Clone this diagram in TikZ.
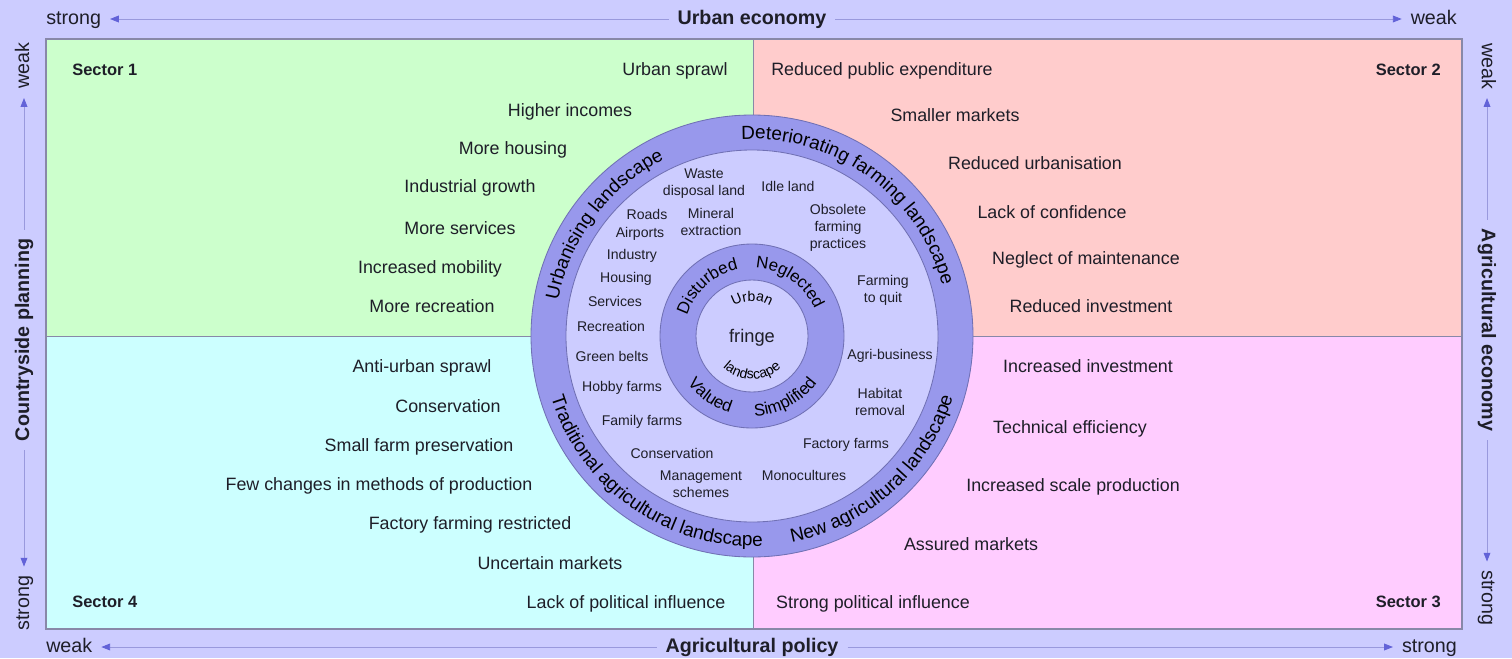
\documentclass[tikz,border=0pt]{standalone}
\usepackage{fontspec}
\setmainfont{Liberation Sans}
\usetikzlibrary{positioning,arrows.meta,decorations.text}
\definecolor{bglav}{HTML}{CCCCFF}
\definecolor{secone}{HTML}{CCFFCC}
\definecolor{sectwo}{HTML}{FFCCCC}
\definecolor{secthree}{HTML}{FFCCFF}
\definecolor{secfour}{HTML}{CCFFFF}
\definecolor{ringfill}{HTML}{9898EC}
\definecolor{ringline}{HTML}{7070B4}
\definecolor{frameline}{HTML}{8888A8}
\definecolor{axline}{HTML}{9999DD}
\definecolor{axtip}{HTML}{6262D8}
\definecolor{txt}{HTML}{1E1E28}
\newcommand{\ringfont}{\fontsize{13.5pt}{16pt}\selectfont}
\newcommand{\midfont}{\fontsize{12pt}{14pt}\selectfont}
\newcommand{\coretext}{\fontsize{10pt}{12pt}\selectfont}
\tikzset{
  lbl/.style={font=\fontsize{12.7pt}{15pt}\selectfont,text=txt,inner sep=0pt,
    text height=9.1pt,text depth=2.6pt,yshift=-0.5mm},
  sect/.style={font=\bfseries\fontsize{11.7pt}{14pt}\selectfont,text=txt,inner sep=0pt,
    text height=8.4pt,text depth=2.4pt,yshift=-0.5mm},
  small/.style={font=\fontsize{10pt}{12pt}\selectfont,text=txt,align=center,inner sep=0pt},
  axlbl/.style={font=\fontsize{14pt}{16pt}\selectfont,text=txt,inner xsep=1mm,inner ysep=0pt,
    text height=10pt,text depth=2.8pt},
  axttl/.style={axlbl,font=\bfseries\fontsize{14pt}{16pt}\selectfont,inner xsep=2.2mm},
  axarr/.style={draw=axline,line width=0.6pt,shorten >=1.2mm,
    -{Triangle[length=2.2mm,width=1.7mm,color=axtip]}},
  ring/.style={fill=ringfill,draw=ringline,line width=0.6pt},
  hole/.style={fill=bglav,draw=ringline,line width=0.6pt},
}

\begin{document}
\begin{tikzpicture}[x=0.025cm,y=0.025cm]
  \useasboundingbox (0,0) rectangle (1512,-658);
  \fill[bglav] (0,0) rectangle (1512,-658);
  % four sectors
  \fill[secone] (46,-39) rectangle (753,-336);
  \fill[sectwo] (753,-39) rectangle (1462,-336);
  \fill[secfour] (46,-336) rectangle (753,-629);
  \fill[secthree] (753,-336) rectangle (1462,-629);
  \draw[frameline,line width=0.5pt] (753,-39) -- (753,-629) (46,-336) -- (1462,-336);
  \draw[frameline,line width=0.9pt] (46,-39) rectangle (1462,-629);

  % axes round the frame
  \node[axttl] (uecon) at (752,-19) {Urban economy};
  \node[axlbl,anchor=west] (tstrong) at (42,-19) {strong};
  \node[axlbl,anchor=east] (tweak) at (1461,-19) {weak};
  \draw[axarr] (uecon.west) -- (tstrong.east);
  \draw[axarr] (uecon.east) -- (tweak.west);

  \node[axttl] (apol) at (752,-647) {Agricultural policy};
  \node[axlbl,anchor=west] (bweak) at (42,-647) {weak};
  \node[axlbl,anchor=east] (bstrong) at (1461,-647) {strong};
  \draw[axarr] (apol.west) -- (bweak.east);
  \draw[axarr] (apol.east) -- (bstrong.west);

  \node[axttl,rotate=90] (cplan) at (24,-340) {Countryside planning};
  \node[axlbl,rotate=90] (lweak) at (24,-66) {weak};
  \node[axlbl,rotate=90] (lstrong) at (24,-603) {strong};
  \draw[axarr] (cplan.east) -- (lweak.west);
  \draw[axarr] (cplan.west) -- (lstrong.east);

  \node[axttl,rotate=-90] (aecon) at (1487,-330) {Agricultural economy};
  \node[axlbl,rotate=-90] (rweak) at (1487,-66) {weak};
  \node[axlbl,rotate=-90] (rstrong) at (1487,-598) {strong};
  \draw[axarr] (aecon.west) -- (rweak.east);
  \draw[axarr] (aecon.east) -- (rstrong.west);

  % sector names
  \node[sect,anchor=west] (sone) at (72,-69) {Sector 1};
  \node[sect,anchor=east] (stwo) at (1441,-69) {Sector 2};
  \node[sect,anchor=east] (sthree) at (1441,-601) {Sector 3};
  \node[sect,anchor=west] (sfour) at (72,-601) {Sector 4};

  % sector 1
  \node[lbl] (usprawl) at (675,-69) {Urban sprawl};
  \node[lbl] (hinc) at (570,-110) {Higher incomes};
  \node[lbl] (mhous) at (513,-148) {More housing};
  \node[lbl] (indgr) at (470,-186) {Industrial growth};
  \node[lbl] (mserv) at (460,-228) {More services};
  \node[lbl] (incmob) at (430,-267) {Increased mobility};
  \node[lbl] (mrec) at (432,-306) {More recreation};
  % sector 2
  \node[lbl] (redpub) at (882,-69) {Reduced public expenditure};
  \node[lbl] (smmkt) at (955,-115) {Smaller markets};
  \node[lbl] (redurb) at (1035,-163) {Reduced urbanisation};
  \node[lbl] (lackconf) at (1052,-212) {Lack of confidence};
  \node[lbl] (neglmt) at (1086,-258) {Neglect of maintenance};
  \node[lbl] (redinv) at (1091,-306) {Reduced investment};
  % sector 3
  \node[lbl] (incinv) at (1088,-366) {Increased investment};
  \node[lbl] (techeff) at (1070,-427) {Technical efficiency};
  \node[lbl] (incscale) at (1073,-485) {Increased scale production};
  \node[lbl] (assmkt) at (971,-544) {Assured markets};
  \node[lbl] (strpol) at (873,-602) {Strong political influence};
  % sector 4
  \node[lbl] (antiurb) at (422,-366) {Anti-urban sprawl};
  \node[lbl] (consfour) at (448,-406) {Conservation};
  \node[lbl] (smfarm) at (419,-445) {Small farm preservation};
  \node[lbl] (fewch) at (379,-484) {Few changes in methods of production};
  \node[lbl] (factres) at (470,-523) {Factory farming restricted};
  \node[lbl] (uncmkt) at (550,-563) {Uncertain markets};
  \node[lbl] (lackpol) at (626,-602) {Lack of political influence};

  % rings of the fringe
  \coordinate (ctr) at (752,-336);
  \path[ring] (ctr) circle[radius=221];
  \path[hole] (ctr) circle[radius=186];
  \path[ring] (ctr) circle[radius=92];
  \path[hole] (ctr) circle[radius=56];

  \path[decorate,decoration={text along path,text align=center,
      text={|\ringfont|Urbanising landscape}}]
    (ctr) ++(200:197) arc[start angle=200,end angle=86,radius=197];
  \path[decorate,decoration={text along path,text align=center,
      text={|\ringfont|Deteriorating farming landscape}}]
    (ctr) ++(114:197) arc[start angle=114,end angle=-6,radius=197];
  \path[decorate,decoration={text along path,text align=center,
      text={|\ringfont|Traditional agricultural landscape}}]
    (ctr) ++(175:210) arc[start angle=175,end angle=295,radius=210];
  \path[decorate,decoration={text along path,text align=center,
      text={|\ringfont|New agricultural landscape}}]
    (ctr) ++(257:210) arc[start angle=257,end angle=367,radius=210];

  \path[decorate,decoration={text along path,text align=center,
      text={|\midfont|Disturbed}}]
    (ctr) ++(177:68) arc[start angle=177,end angle=87,radius=68];
  \path[decorate,decoration={text along path,text align=center,
      text={|\midfont|Neglected}}]
    (ctr) ++(100:68) arc[start angle=100,end angle=10,radius=68];
  \path[decorate,decoration={text along path,text align=center,
      text={|\midfont|Valued}}]
    (ctr) ++(195:80) arc[start angle=195,end angle=275,radius=80];
  \path[decorate,decoration={text along path,text align=center,
      text={|\midfont|Simplified}}]
    (ctr) ++(255:80) arc[start angle=255,end angle=341,radius=80];

  \path[decorate,decoration={text along path,text align=center,
      text={|\coretext|Urban}}]
    (ctr) ++(150:35) arc[start angle=150,end angle=30,radius=35];
  \path[decorate,decoration={text along path,text align=center,
      text={|\coretext|landscape}}]
    (ctr) ++(200:43) arc[start angle=200,end angle=340,radius=43];
  \node[font=\fontsize{13pt}{15pt}\selectfont,text=txt,inner sep=0pt] (fringe) at (752,-338) {fringe};

  % land uses between the rings
  \node[small] (waste) at (704,-184) {Waste\\disposal land};
  \node[small] (idle) at (788,-186) {Idle land};
  \node[small] (roads) at (647,-214) {Roads};
  \node[small] (mineral) at (711,-222) {Mineral\\extraction};
  \node[small] (airports) at (640,-234) {Airports};
  \node[small] (obsolete) at (838,-228) {Obsolete\\farming\\practices};
  \node[small] (industry) at (632,-256) {Industry};
  \node[small] (housing) at (626,-279) {Housing};
  \node[small] (farmquit) at (883,-290) {Farming\\to quit};
  \node[small] (services) at (615,-301) {Services};
  \node[small] (recreation) at (611,-326) {Recreation};
  \node[small] (greenbelts) at (612,-356) {Green belts};
  \node[small] (agribiz) at (890,-356) {Agri-business};
  \node[small] (hobby) at (622,-388) {Hobby farms};
  \node[small] (habitat) at (880,-402) {Habitat\\removal};
  \node[small] (family) at (642,-422) {Family farms};
  \node[small] (factory) at (846,-445) {Factory farms};
  \node[small] (consring) at (672,-453) {Conservation};
  \node[small] (mgmt) at (701,-484) {Management\\schemes};
  \node[small] (mono) at (804,-475) {Monocultures};
\end{tikzpicture}
\end{document}
